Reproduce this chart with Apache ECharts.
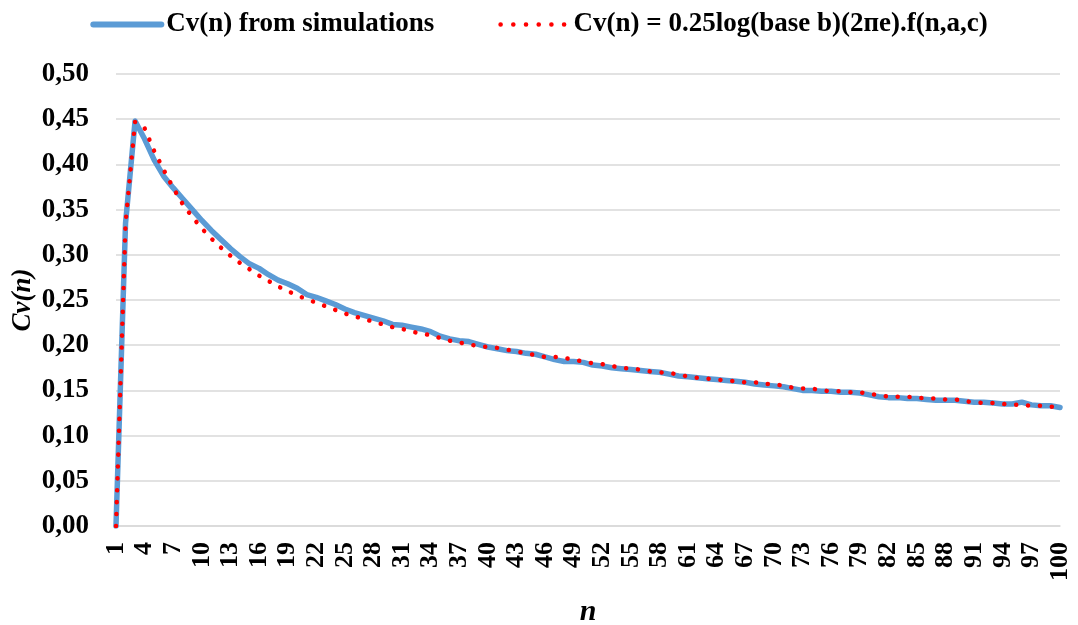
<!DOCTYPE html>
<html>
<head>
<meta charset="utf-8">
<title>Cv(n)</title>
<script src="https://cdn.jsdelivr.net/npm/echarts@6/dist/echarts.min.js"></script>
<style>
  html, body { margin: 0; padding: 0; background: #ffffff; }
  #chart { width: 1078px; height: 625px; }
</style>
</head>
<body>
<div id="chart"></div>
<script>
// sample sizes n = 1 .. 100
const nValues = [];
for (let n = 1; n <= 100; n++) nValues.push(String(n));

// coefficient of variation obtained from the simulations
const cvSimulated = [
  0.000, 0.335, 0.448, 0.428, 0.405, 0.387, 0.374, 0.362, 0.350, 0.338,
  0.327, 0.317, 0.307, 0.298, 0.290, 0.285, 0.278, 0.272, 0.268, 0.263,
  0.256, 0.253, 0.249, 0.245, 0.240, 0.236, 0.233, 0.230, 0.227, 0.223,
  0.222, 0.220, 0.218, 0.215, 0.210, 0.207, 0.205, 0.204, 0.201, 0.198,
  0.196, 0.194, 0.193, 0.191, 0.190, 0.187, 0.184, 0.182, 0.182, 0.181,
  0.178, 0.177, 0.175, 0.174, 0.173, 0.172, 0.171, 0.170, 0.168, 0.166,
  0.165, 0.164, 0.163, 0.162, 0.161, 0.160, 0.159, 0.157, 0.156, 0.155,
  0.154, 0.152, 0.150, 0.150, 0.149, 0.149, 0.148, 0.148, 0.147, 0.145,
  0.143, 0.142, 0.142, 0.141, 0.141, 0.140, 0.139, 0.139, 0.139, 0.138,
  0.137, 0.137, 0.136, 0.135, 0.135, 0.137, 0.134, 0.133, 0.133, 0.131
];

// coefficient of variation given by the closed-form expression
const cvFormula = [
  0.000, 0.335, 0.447, 0.440, 0.415, 0.394, 0.374, 0.356, 0.342, 0.329,
  0.318, 0.308, 0.299, 0.291, 0.284, 0.277, 0.271, 0.265, 0.260, 0.255,
  0.251, 0.247, 0.243, 0.239, 0.235, 0.232, 0.229, 0.226, 0.223, 0.220,
  0.218, 0.215, 0.213, 0.211, 0.208, 0.205, 0.203, 0.201, 0.199, 0.198,
  0.197, 0.195, 0.193, 0.191, 0.189, 0.187, 0.187, 0.186, 0.184, 0.182,
  0.180, 0.179, 0.177, 0.175, 0.174, 0.173, 0.171, 0.170, 0.169, 0.168,
  0.165, 0.164, 0.163, 0.162, 0.161, 0.160, 0.159, 0.159, 0.157, 0.157,
  0.155, 0.153, 0.152, 0.152, 0.150, 0.149, 0.149, 0.148, 0.148, 0.146,
  0.145, 0.143, 0.143, 0.143, 0.142, 0.141, 0.141, 0.140, 0.140, 0.138,
  0.137, 0.136, 0.136, 0.135, 0.134, 0.134, 0.133, 0.133, 0.132, 0.132
];

const seriesNames = [
  'Cv(n) from simulations',
  'Cv(n) = 0.25log(base b)(2\u043fe).f(n,a,c)'
];

const serif = '"Liberation Serif", "Times New Roman", serif';
const blue = '#5b9bd5';
const red = '#ff0000';

const chart = echarts.init(document.getElementById('chart'), null, { renderer: 'canvas' });

chart.setOption({
  animation: false,
  backgroundColor: '#ffffff',
  textStyle: { fontFamily: serif },
  legend: {
    top: 6,
    left: 'center',
    itemWidth: 68,
    itemHeight: 26,
    itemGap: 64,
    textStyle: { fontFamily: serif, fontWeight: 'bold', fontSize: 27, color: '#000000' },
    itemStyle: { opacity: 0 },
    data: [
      {
        name: seriesNames[0],
        itemStyle: { opacity: 0 },
        lineStyle: { color: blue, width: 6, cap: 'round' }
      },
      {
        name: seriesNames[1],
        itemStyle: { opacity: 0 },
        lineStyle: { color: red, width: 4.5, type: [0.1, 12.6], cap: 'round' }
      }
    ]
  },
  grid: {
    left: 116, right: 18, top: 74, bottom: 99,
    containLabel: false,
    outerBoundsMode: 'none'
  },
  xAxis: {
    type: 'category',
    data: nValues,
    boundaryGap: false,
    name: 'n',
    nameLocation: 'middle',
    nameGap: 71,
    nameMoveOverlap: false,
    nameTextStyle: { fontFamily: serif, fontStyle: 'italic', fontWeight: 'bold', fontSize: 30, color: '#000000' },
    axisLine: { show: true, lineStyle: { color: '#d9d9d9', width: 1.5 } },
    axisTick: { show: false },
    axisLabel: {
      interval: 2,
      rotate: 90,
      margin: 16,
      fontFamily: serif,
      fontWeight: 'bold',
      fontSize: 26,
      color: '#000000'
    },
    splitLine: { show: false }
  },
  yAxis: {
    type: 'value',
    min: 0,
    max: 0.5,
    interval: 0.05,
    name: 'Cv(n)',
    nameLocation: 'middle',
    nameGap: 79,
    nameMoveOverlap: false,
    nameRotate: 90,
    nameTextStyle: { fontFamily: serif, fontStyle: 'italic', fontWeight: 'bold', fontSize: 27, color: '#000000' },
    axisLine: { show: false },
    axisTick: { show: false },
    axisLabel: {
      margin: 27,
      fontFamily: serif,
      fontWeight: 'bold',
      fontSize: 27,
      color: '#000000',
      formatter: v => v.toFixed(2).replace('.', ',')
    },
    splitLine: { show: true, lineStyle: { color: '#d9d9d9', width: 1.5 } }
  },
  series: [
    {
      name: seriesNames[0],
      type: 'line',
      data: cvSimulated,
      symbol: 'none',
      showSymbol: false,
      smooth: false,
      lineStyle: { color: blue, width: 5.5, cap: 'round', join: 'round' },
      itemStyle: { color: blue },
      z: 2
    },
    {
      name: seriesNames[1],
      type: 'line',
      data: cvFormula,
      symbol: 'none',
      showSymbol: false,
      smooth: false,
      lineStyle: { color: red, width: 4.5, type: [0.1, 11.8], cap: 'round', join: 'round' },
      itemStyle: { color: red },
      z: 3
    }
  ]
});
</script>
</body>
</html>
